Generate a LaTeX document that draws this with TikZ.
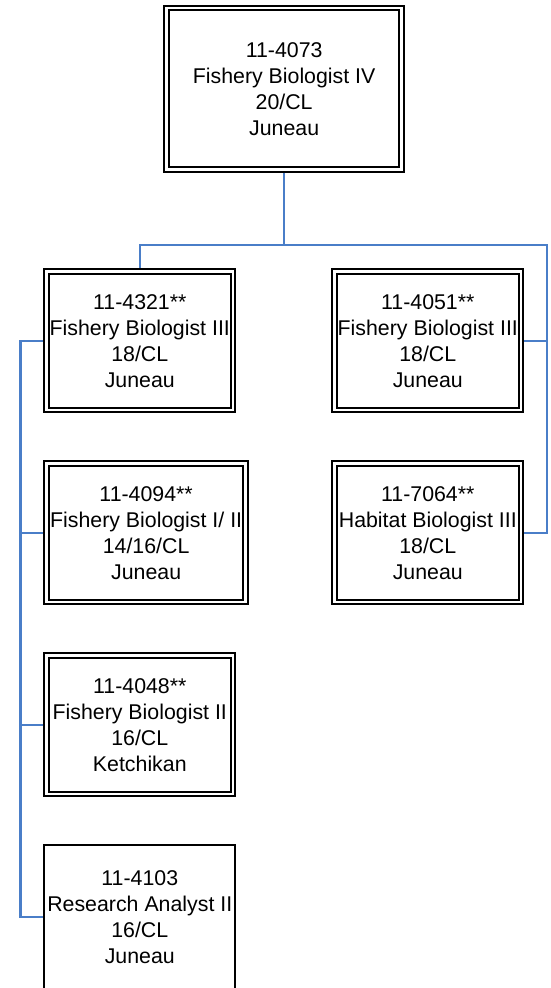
\documentclass[tikz,border=0pt]{standalone}
\usepackage{fontspec}
\setmainfont{Liberation Sans}
\usepackage{xcolor}
\usepackage{tikz}
\usetikzlibrary{shapes,arrows,positioning}

\definecolor{linkblue}{RGB}{74,126,200}

\begin{document}
\begin{tikzpicture}[node distance=144pt, auto]
    \tikzstyle{box} = [rectangle, draw=black, line width=1.4pt, double, double distance=2.1pt, outer sep=2.45pt, inner sep=0pt, align=center, font=\fontsize{16}{19.5}\selectfont, minimum width=139.85pt, minimum height=103.85pt]
    \tikzstyle{plainbox} = [rectangle, draw=black, line width=1.4pt, inner sep=0pt, align=center, font=\fontsize{16}{19.5}\selectfont, minimum width=143.4pt, minimum height=108.2pt]
    \tikzstyle{link} = [draw=linkblue, line width=1.9pt]

    \useasboundingbox (0,0) rectangle (412.5pt,-741pt);
    \clip (0,0) rectangle (412.5pt,-741pt);

    \node [box, minimum width=176.35pt, minimum height=121.3pt] (p4073) at (213.1pt,-66.6pt) {11-4073\\Fishery Biologist IV\\20/CL\\Juneau};

    % left column
    \node [box] (p4321) at (104.85pt,-255.6pt) {11-4321**\\Fishery Biologist III\\18/CL\\Juneau};
    \node [box, below of=p4321, xshift=4.75pt, minimum width=149.4pt] (p4094) {11-4094**\\Fishery Biologist I/ II\\14/16/CL\\Juneau};
    \node [box, below of=p4094, xshift=-4.75pt] (p4048) {11-4048**\\Fishery Biologist II\\16/CL\\Ketchikan};
    \node [plainbox, below of=p4048] (p4103) {11-4103\\Research Analyst II\\16/CL\\Juneau};

    % right column
    \node [box, right of=p4321, node distance=216pt] (p4051) {11-4051**\\Fishery Biologist III\\18/CL\\Juneau};
    \node [box, below of=p4051] (p7064) {11-7064**\\Habitat Biologist III\\18/CL\\Juneau};

    \draw [link] (p4073.south) -- ++(0,-54pt) -| (p4321.north);
    \draw [link] (p4073.south) -- ++(0,-54pt) -| ([xshift=17pt]p7064.east) -- (p7064.east);
    \draw [link] (p4051.east) -- ++(17pt,0);
    \draw [link] (p4321.west) -- ++(-17pt,0) |- (p4103.west);
    \draw [link] (p4094.west) -- ++(-17pt,0);
    \draw [link] (p4048.west) -- ++(-17pt,0);
\end{tikzpicture}
\end{document}
